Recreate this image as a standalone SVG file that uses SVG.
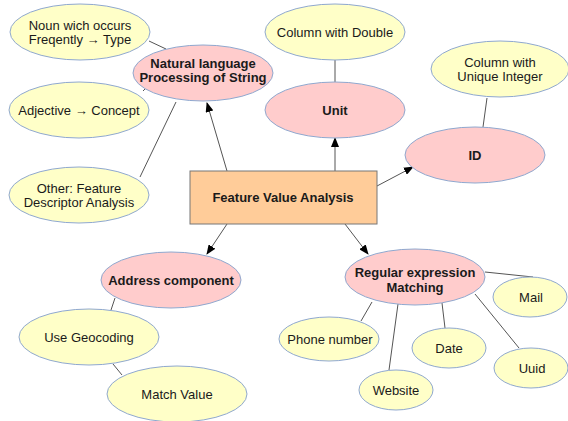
<svg xmlns="http://www.w3.org/2000/svg" width="568" height="421" viewBox="0 0 568 421">
<style>
text{font-family:"Liberation Sans",Arial,sans-serif;font-size:13px;fill:#1a1a1a;text-anchor:middle}
.b{font-weight:bold}
.y{fill:#ffffc8;stroke:#8fa8cf;stroke-width:1}
.p{fill:#ffcccc;stroke:#8fa8cf;stroke-width:1}
.box{fill:#ffcc99;stroke:#777;stroke-width:1}
.c line{stroke:#555;stroke-width:1}
.a{marker-end:url(#arr)}
</style>
<defs>
<marker id="arr" markerWidth="10" markerHeight="8" refX="9" refY="4" orient="auto" markerUnits="userSpaceOnUse">
<path d="M0,0 L10,4 L0,8 z" fill="#000"/>
</marker>
</defs>
<rect width="568" height="421" fill="#fff"/>
<g class="c" id="connectors">
<line class="a" x1="227" y1="171" x2="207" y2="103"/>
<line class="a" x1="335" y1="171" x2="335" y2="138"/>
<line class="a" x1="377" y1="186" x2="413" y2="167"/>
<line class="a" x1="227" y1="224" x2="207" y2="254"/>
<line class="a" x1="345" y1="224" x2="368" y2="254"/>
<line x1="149" y1="41" x2="166" y2="49"/>
<line x1="143" y1="91" x2="147" y2="87"/>
<line x1="140" y1="177" x2="176" y2="102"/>
<line x1="335" y1="60" x2="335" y2="82"/>
<line x1="487" y1="98" x2="483" y2="127"/>
<line x1="115" y1="298" x2="111" y2="310"/>
<line x1="113" y1="364" x2="122" y2="375"/>
<line x1="485" y1="272" x2="533" y2="277"/>
<line x1="372" y1="302" x2="361" y2="321"/>
<line x1="398" y1="304" x2="389" y2="370"/>
<line x1="442" y1="303" x2="445" y2="328"/>
<line x1="475" y1="294" x2="519" y2="348"/>
</g>
<g id="feature"><rect class="box" x="190" y="171" width="187" height="53"/><text class="b" x="283" y="202">Feature Value Analysis</text></g>
<g id="nlp"><ellipse class="p" cx="203" cy="73" rx="70" ry="28"/><text class="b" x="203" y="68">Natural language</text><text class="b" x="203" y="82">Processing of String</text></g>
<g id="noun"><ellipse class="y" cx="80" cy="32" rx="70" ry="28"/><text x="80" y="29.5">Noun wich occurs</text><text x="80" y="43.5">Freqently → Type</text></g>
<g id="adjective"><ellipse class="y" cx="79" cy="110" rx="70" ry="28"/><text x="79" y="114.5">Adjective → Concept</text></g>
<g id="other"><ellipse class="y" cx="79" cy="195" rx="70" ry="28"/><text x="79" y="192.5">Other: Feature</text><text x="79" y="206.5">Descriptor Analysis</text></g>
<g id="unit"><ellipse class="p" cx="335" cy="110" rx="70" ry="28"/><text class="b" x="335" y="114.5">Unit</text></g>
<g id="double"><ellipse class="y" cx="335" cy="32" rx="70" ry="28"/><text x="335" y="36.5">Column with Double</text></g>
<g id="id"><ellipse class="p" cx="475" cy="155" rx="70" ry="28"/><text class="b" x="475" y="159.5">ID</text></g>
<g id="uniqueint"><ellipse class="y" cx="500" cy="69" rx="69" ry="28"/><text x="500" y="66.5">Column with</text><text x="500" y="80.5">Unique Integer</text></g>
<g id="address"><ellipse class="p" cx="171" cy="280" rx="70" ry="28"/><text class="b" x="171" y="284.5">Address component</text></g>
<g id="geocoding"><ellipse class="y" cx="89" cy="337" rx="70" ry="28"/><text x="89" y="341.5">Use Geocoding</text></g>
<g id="match"><ellipse class="y" cx="177" cy="394" rx="70" ry="28"/><text x="177" y="398.5">Match Value</text></g>
<g id="regex"><ellipse class="p" cx="415" cy="277" rx="70" ry="28"/><text class="b" x="415" y="276.5">Regular expression</text><text class="b" x="415" y="291.5">Matching</text></g>
<g id="mail"><ellipse class="y" cx="530" cy="297" rx="37" ry="20"/><text x="531" y="301.5">Mail</text></g>
<g id="phone"><ellipse class="y" cx="329" cy="339" rx="50" ry="22"/><text x="330" y="343.5">Phone number</text></g>
<g id="date"><ellipse class="y" cx="449" cy="348" rx="37" ry="20"/><text x="449" y="352.5">Date</text></g>
<g id="website"><ellipse class="y" cx="396" cy="390" rx="37" ry="20"/><text x="396" y="394.5">Website</text></g>
<g id="uuid"><ellipse class="y" cx="531" cy="368" rx="37" ry="20"/><text x="532" y="372.5">Uuid</text></g>
</svg>
